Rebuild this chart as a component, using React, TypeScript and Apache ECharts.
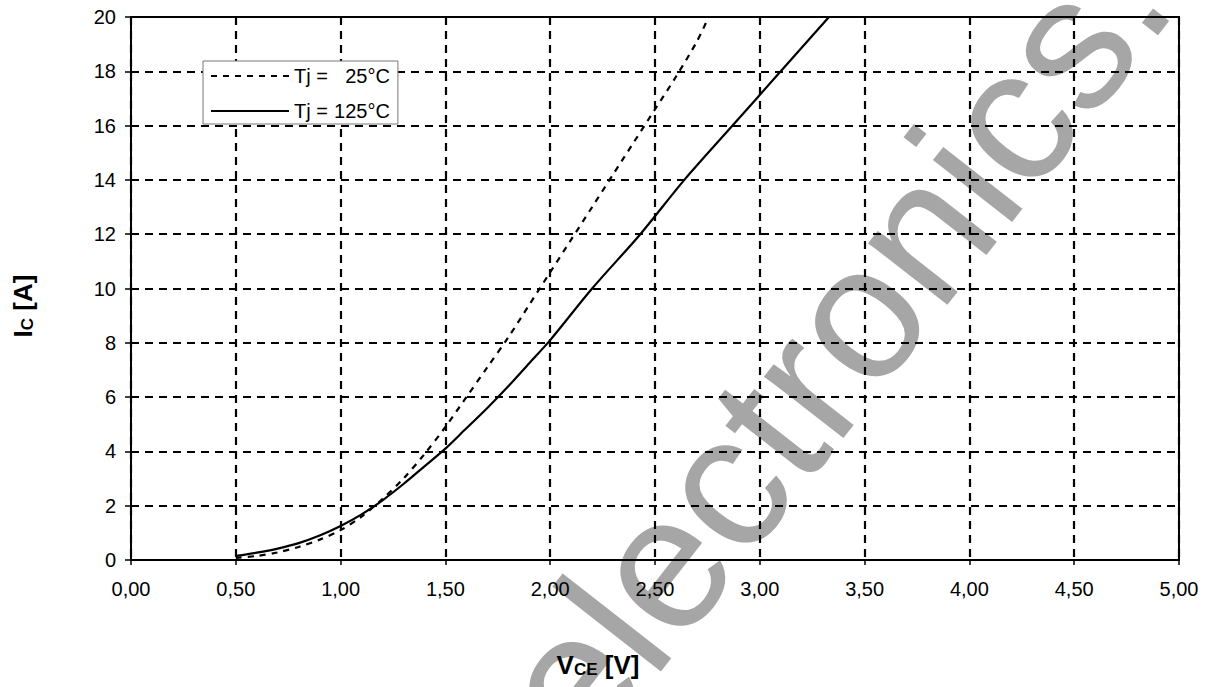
import React, { useEffect, useRef } from "react";
import * as echarts from "echarts";

const SERIES_NAMES = ["Tj =   25°C", "Tj = 125°C"];
const LEGEND_TEMPS = ["25°C", "125°C"];

// Tj = 25°C (dashed)
const V_25 = [0.5, 0.6, 0.7, 0.8, 0.9, 1.0, 1.1, 1.2, 1.3, 1.4, 1.5, 1.6, 1.7, 1.8, 1.9, 2.0, 2.1, 2.2, 2.3, 2.4, 2.5, 2.6, 2.7, 2.75];
const I_25 = [0.08, 0.15, 0.28, 0.48, 0.75, 1.1, 1.6, 2.25, 3.0, 3.9, 4.9, 6.0, 7.1, 8.2, 9.4, 10.6, 11.8, 13.0, 14.2, 15.4, 16.6, 17.8, 19.1, 19.9];

// Tj = 125°C (solid)
const V_125 = [0.5, 0.6, 0.7, 0.8, 0.9, 1.0, 1.1, 1.2, 1.3, 1.4, 1.5, 1.6, 1.7, 1.8, 1.9, 2.0, 2.2, 2.43, 2.64, 2.87, 3.1, 3.33];
const I_125 = [0.15, 0.27, 0.42, 0.62, 0.9, 1.25, 1.68, 2.2, 2.8, 3.45, 4.1, 4.85, 5.6, 6.4, 7.25, 8.1, 10, 12, 14, 16, 18, 20];

const X_MIN = 0;
const X_MAX = 5;
const X_STEP = 0.5;
const Y_MIN = 0;
const Y_MAX = 20;
const Y_STEP = 2;

const X_TITLE = "{b|V}{s|CE}{b| [V]}";
const Y_TITLE = "{b|I}{s|C}{b| [A]}";
const WATERMARK = "electronics.";

const FONT = "'Liberation Sans', Arial, Helvetica, sans-serif";

export default function App() {
  const ref = useRef<HTMLDivElement>(null);

  useEffect(() => {
    if (!ref.current) return;
    const chart = echarts.init(ref.current, undefined, { renderer: "svg" });

    const d25 = V_25.map((v, i) => [v, I_25[i]]);
    const d125 = V_125.map((v, i) => [v, I_125[i]]);

    const titleRich = {
      b: { fontSize: 26, fontWeight: "bold", fontFamily: FONT, color: "#000", lineHeight: 26, verticalAlign: "bottom" },
      s: { fontSize: 17, fontWeight: "bold", fontFamily: FONT, color: "#000", lineHeight: 14, verticalAlign: "bottom" },
    };

    const option: any = {
      animation: false,
      backgroundColor: "#fff",
      grid: {
        left: 131,
        right: 28,
        top: 17,
        bottom: 127,
        show: true,
        borderColor: "#000",
        borderWidth: 2,
        backgroundColor: "transparent",
      },
      legend: {
        data: SERIES_NAMES,
        left: 203,
        top: 61,
        orient: "vertical",
        itemWidth: 78,
        itemHeight: 14,
        itemGap: 15,
        padding: [5, 8, 3, 7],
        backgroundColor: "#fff",
        borderColor: "#777",
        borderWidth: 1,
        selectedMode: false,
        itemStyle: { opacity: 0 },
        formatter: (name: string) => {
          const idx = SERIES_NAMES.indexOf(name);
          return "{a|Tj =}{b|" + LEGEND_TEMPS[idx] + "}";
        },
        textStyle: {
          color: "#000",
          fontSize: 20,
          fontFamily: FONT,
          rich: {
            a: { fontSize: 20, lineHeight: 22, fontFamily: FONT, color: "#000" },
            b: { fontSize: 20, lineHeight: 22, fontFamily: FONT, color: "#000", width: 62, align: "right" },
          },
        },
      },
      xAxis: {
        type: "value",
        min: X_MIN,
        max: X_MAX,
        interval: X_STEP,
        axisLine: { show: true, onZero: false, lineStyle: { color: "#000", width: 2 } },
        axisTick: { show: true, length: 5, lineStyle: { color: "#000", width: 1.5 } },
        axisLabel: {
          color: "#000",
          fontSize: 20,
          fontFamily: FONT,
          margin: 19,
          formatter: (v: number) => v.toFixed(2).replace(".", ","),
        },
        splitLine: { show: true, lineStyle: { color: "#000", width: 2.2, type: [8, 6] } },
      },
      yAxis: {
        type: "value",
        min: Y_MIN,
        max: Y_MAX,
        interval: Y_STEP,
        axisLine: { show: true, onZero: false, lineStyle: { color: "#000", width: 2 } },
        axisTick: { show: true, length: 6, lineStyle: { color: "#000", width: 1.5 } },
        axisLabel: { color: "#000", fontSize: 20, fontFamily: FONT, margin: 15 },
        splitLine: { show: true, lineStyle: { color: "#000", width: 2.2, type: [8, 6] } },
      },
      graphic: [
        {
          type: "text",
          z: -10,
          x: 536,
          y: 724,
          rotation: (52 * Math.PI) / 180,
          silent: true,
          style: {
            text: WATERMARK,
            fontSize: 190,
            fontFamily: FONT,
            fill: "#a6a6a6",
            align: "left",
            verticalAlign: "middle",
          },
        },
        {
          type: "text",
          x: 598,
          y: 665,
          z: 10,
          style: {
            text: X_TITLE,
            rich: titleRich,
            align: "center",
            verticalAlign: "middle",
          },
        },
        {
          type: "text",
          x: 23,
          y: 306,
          z: 10,
          rotation: Math.PI / 2,
          style: {
            text: Y_TITLE,
            rich: titleRich,
            align: "center",
            verticalAlign: "middle",
          },
        },
      ],
      series: [
        {
          name: SERIES_NAMES[0],
          type: "line",
          data: d25,
          symbol: "none",
          smooth: 0.3,
          lineStyle: { color: "#000", width: 2.2, type: [6, 6] },
          itemStyle: { color: "#000" },
          z: 5,
        },
        {
          name: SERIES_NAMES[1],
          type: "line",
          data: d125,
          symbol: "none",
          smooth: 0.3,
          lineStyle: { color: "#000", width: 2.2, type: "solid" },
          itemStyle: { color: "#000" },
          z: 5,
        },
      ],
    };

    chart.setOption(option);
    return () => chart.dispose();
  }, []);

  return (
    <div
      ref={ref}
      style={{ position: "absolute", left: 0, top: 0, width: 1207, height: 687, background: "#fff" }}
    />
  );
}
